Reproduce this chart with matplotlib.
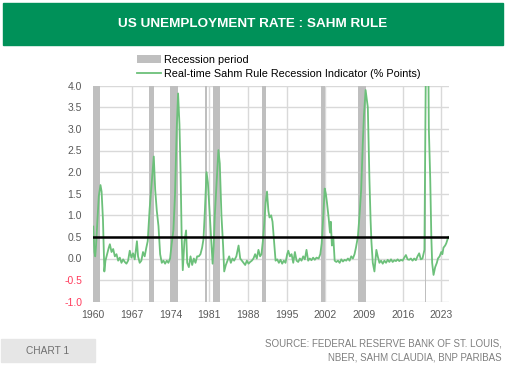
import numpy as np
import matplotlib.pyplot as plt
from matplotlib.patches import Rectangle, Patch
from matplotlib.lines import Line2D

# real-time Sahm rule indicator (year, % points)
years = [1960.0, 1960.2, 1960.35, 1960.5, 1960.75, 1961.0, 1961.3, 1961.5, 1961.75, 1962.0,
         1962.2, 1962.5, 1962.8, 1963.0, 1963.3, 1963.6, 1963.9, 1964.2, 1964.5, 1964.8,
         1965.1, 1965.4, 1965.7, 1966.0, 1966.3, 1966.6, 1966.9, 1967.2, 1967.5, 1967.9,
         1968.1, 1968.4, 1968.7, 1969.0, 1969.3, 1969.6, 1969.85, 1970.2, 1970.6, 1970.95,
         1971.2, 1971.5, 1971.8, 1972.1, 1972.4, 1972.7, 1973.0, 1973.3, 1973.6, 1973.9,
         1974.2, 1974.5, 1974.8, 1975.1, 1975.35, 1975.6, 1975.8, 1976.0, 1976.2, 1976.5,
         1976.8, 1977.0, 1977.3, 1977.6, 1977.9, 1978.2, 1978.5, 1978.8, 1979.1, 1979.4,
         1979.7, 1979.95, 1980.2, 1980.5, 1980.75, 1981.0, 1981.3, 1981.6, 1981.8, 1982.0,
         1982.3, 1982.65, 1982.9, 1983.2, 1983.5, 1983.7, 1984.0, 1984.3, 1984.6, 1984.9,
         1985.2, 1985.5, 1985.9, 1986.3, 1986.6, 1986.9, 1987.2, 1987.5, 1987.8, 1988.1,
         1988.4, 1988.7, 1989.0, 1989.3, 1989.6, 1989.9, 1990.2, 1990.45, 1990.7, 1990.95,
         1991.2, 1991.45, 1991.7, 1991.9, 1992.2, 1992.45, 1992.7, 1993.0, 1993.3, 1993.6,
         1993.9, 1994.2, 1994.5, 1994.8, 1995.1, 1995.3, 1995.6, 1995.9, 1996.2, 1996.5,
         1996.8, 1997.1, 1997.4, 1997.7, 1998.0, 1998.3, 1998.6, 1998.9, 1999.2, 1999.5,
         1999.8, 2000.1, 2000.4, 2000.8, 2001.1, 2001.35, 2001.6, 2001.9, 2002.1, 2002.3,
         2002.6, 2002.85, 2003.0, 2003.2, 2003.45, 2003.7, 2004.0, 2004.3, 2004.6, 2004.9,
         2005.2, 2005.5, 2005.8, 2006.1, 2006.4, 2006.7, 2007.0, 2007.3, 2007.55, 2007.9,
         2008.2, 2008.5, 2008.8, 2009.0, 2009.3, 2009.5, 2009.7, 2009.85, 2010.0, 2010.2,
         2010.35, 2010.6, 2010.9, 2011.1, 2011.25, 2011.5, 2011.8, 2012.1, 2012.4, 2012.7,
         2013.0, 2013.3, 2013.6, 2013.9, 2014.2, 2014.5, 2014.8, 2015.1, 2015.4, 2015.7,
         2016.0, 2016.3, 2016.6, 2016.9, 2017.2, 2017.5, 2017.8, 2018.1, 2018.4, 2018.7,
         2019.0, 2019.3, 2019.6, 2019.95, 2020.3, 2020.45, 2020.55, 2020.75, 2021.0, 2021.2,
         2021.35, 2021.6, 2021.9, 2022.2, 2022.4, 2022.7, 2023.0, 2023.2, 2023.4, 2023.7,
         2023.9, 2024.1, 2024.3]
sahm = [0.74, 0.15, 0.05, 0.3, 0.9, 1.45, 1.7, 1.55, 0.9, -0.3,
        -0.05, 0.1, 0.25, 0.33, 0.15, 0.22, 0.05, 0.1, -0.05, 0.02,
        -0.1, -0.02, -0.08, -0.12, -0.05, 0.18, 0.02, 0.12, -0.02, 0.4,
        0.05, -0.1, -0.05, 0.15, 0.05, 0.25, 0.4, 1.15, 1.8, 2.36,
        1.6, 1.1, 0.75, 0.1, -0.1, -0.05, -0.12, -0.05, -0.1, 0.0,
        0.35, 0.65, 1.5, 3.0, 3.82, 3.1, 2.0, 0.5, -0.27, 0.4,
        0.65, -0.1, -0.2, 0.05, -0.15, 0.0, -0.1, 0.05, 0.05, 0.1,
        0.25, 0.45, 1.1, 2.0, 1.75, 1.2, 0.5, -0.12, 0.3, 1.0,
        1.7, 2.51, 2.2, 1.0, 0.3, -0.3, -0.15, -0.05, 0.05, -0.1,
        0.0, -0.05, 0.05, 0.3, 0.0, -0.05, -0.1, -0.15, -0.05, -0.12,
        -0.08, -0.05, 0.0, 0.1, 0.0, 0.2, 0.05, 0.1, 0.4, 0.8,
        1.3, 1.55, 1.1, 0.95, 1.0, 0.85, 0.45, -0.05, -0.02, -0.1,
        -0.03, -0.12, -0.05, -0.1, 0.1, 0.18, 0.05, 0.1, -0.1, 0.15,
        -0.05, -0.08, 0.0, -0.05, 0.05, -0.02, 0.2, -0.05, 0.0, -0.04,
        0.02, -0.03, 0.02, 0.0, 0.1, 0.35, 0.9, 1.62, 1.5, 1.3,
        0.95, 0.6, 0.85, 0.3, 0.5, -0.05, -0.08, -0.05, -0.1, -0.02,
        -0.07, -0.03, -0.05, 0.0, -0.05, 0.05, 0.0, 0.1, 0.25, 0.5,
        1.0, 1.6, 2.7, 3.3, 3.9, 3.7, 3.5, 2.6, 1.8, 0.9,
        0.4, -0.1, -0.3, 0.0, 0.2, 0.05, -0.1, -0.05, -0.12, -0.05,
        -0.1, -0.03, -0.08, -0.02, -0.08, -0.04, -0.06, -0.02, -0.06, -0.03,
        -0.05, 0.02, 0.08, -0.02, -0.03, 0.0, -0.05, 0.0, -0.04, 0.05,
        0.12, -0.02, 0.0, 0.2, 6.0, 9.5, 6.5, 3.0, 1.85, 0.5,
        -0.1, -0.38, -0.2, -0.1, 0.0, 0.05, 0.15, 0.1, 0.25, 0.3,
        0.35, 0.43, 0.5]

# NBER recessions (start, end)
rec_start = [1960.0, 1970.05, 1973.9, 1980.2, 1981.6, 1990.55, 2001.2, 2007.9, 2020.1]
rec_end = [1961.15, 1970.92, 1975.25, 1980.6, 1982.9, 1991.2, 2002.0, 2009.3, 2020.3]

threshold = 0.5
xticks = [1960, 1967, 1974, 1981, 1988, 1995, 2002, 2009, 2016, 2023]
yticks = [-1.0, -0.5, 0.0, 0.5, 1.0, 1.5, 2.0, 2.5, 3.0, 3.5, 4.0]

GREEN_LINE = '#6cc07a'
REC_GREY = '#bfbfbf'
plt.rcParams['font.family'] = ['Liberation Sans', 'DejaVu Sans']

fig = plt.figure(figsize=(5.05, 3.66), dpi=100)
fig.patch.set_facecolor('white')

# title banner
fig.patches.append(Rectangle((3/505, 1-45/366), 500/505, 42/366, transform=fig.transFigure,
                             color='#009159', zorder=0))
fig.text(0.5, 1-24/366, 'US UNEMPLOYMENT RATE : SAHM RULE', ha='center', va='center',
         color='white', fontsize=9.7, fontweight='bold')

ax = fig.add_axes([93.3/505, 1-301.7/366, (449-93.3)/505, 216/366])
for s, e in zip(rec_start, rec_end):
    ax.axvspan(s, e, color=REC_GREY, lw=0, zorder=1)
ax.plot(years, sahm, color=GREEN_LINE, lw=1.3, zorder=3)
ax.axhline(threshold, color='black', lw=1.8, zorder=4)

ax.set_xlim(1960, 2024.4)
ax.set_ylim(-1.0, 4.0)
ax.set_xticks(xticks)
ax.set_yticks(yticks)
ax.set_yticklabels(['%.1f' % v for v in yticks])
ax.grid(True, color='#d9d9d9', lw=1.0, zorder=0)
ax.set_axisbelow(True)
for sp in ax.spines.values():
    sp.set_visible(False)
ax.tick_params(length=0, labelsize=7.5, colors='#595959', pad=8)
ax.tick_params(axis='x', pad=6)
for lab, v in zip(ax.get_yticklabels(), yticks):
    if v < 0:
        lab.set_color('#ff3b5c')

handles = [Patch(facecolor=REC_GREY, edgecolor='none'),
           Line2D([], [], color=GREEN_LINE, lw=1.3)]
labels = ['Recession period', 'Real-time Sahm Rule Recession Indicator (% Points)']
fig.legend(handles, labels, loc='upper left', bbox_to_anchor=(137/505, 1-55/366),
           frameon=False, fontsize=7.8, handlelength=2.2, handleheight=0.8,
           handletextpad=0.3, labelspacing=0.4, borderpad=0, borderaxespad=0)

# footer
fig.patches.append(Rectangle((1/505, 1-362/366), 94/505, 23/366, transform=fig.transFigure,
                             color='#e6e6e6', zorder=0))
fig.text(48/505, 1-351/366, 'CHART 1', ha='center', va='center', color='#6f6f6f',
         fontsize=7.3)
fig.text(502/505, 1-344/366, 'SOURCE: FEDERAL RESERVE BANK OF ST. LOUIS,', ha='right',
         va='center', color='#7f7f7f', fontsize=7)
fig.text(502/505, 1-357/366, 'NBER, SAHM CLAUDIA, BNP PARIBAS', ha='right',
         va='center', color='#7f7f7f', fontsize=7)

fig.savefig('out.png', dpi=100)
